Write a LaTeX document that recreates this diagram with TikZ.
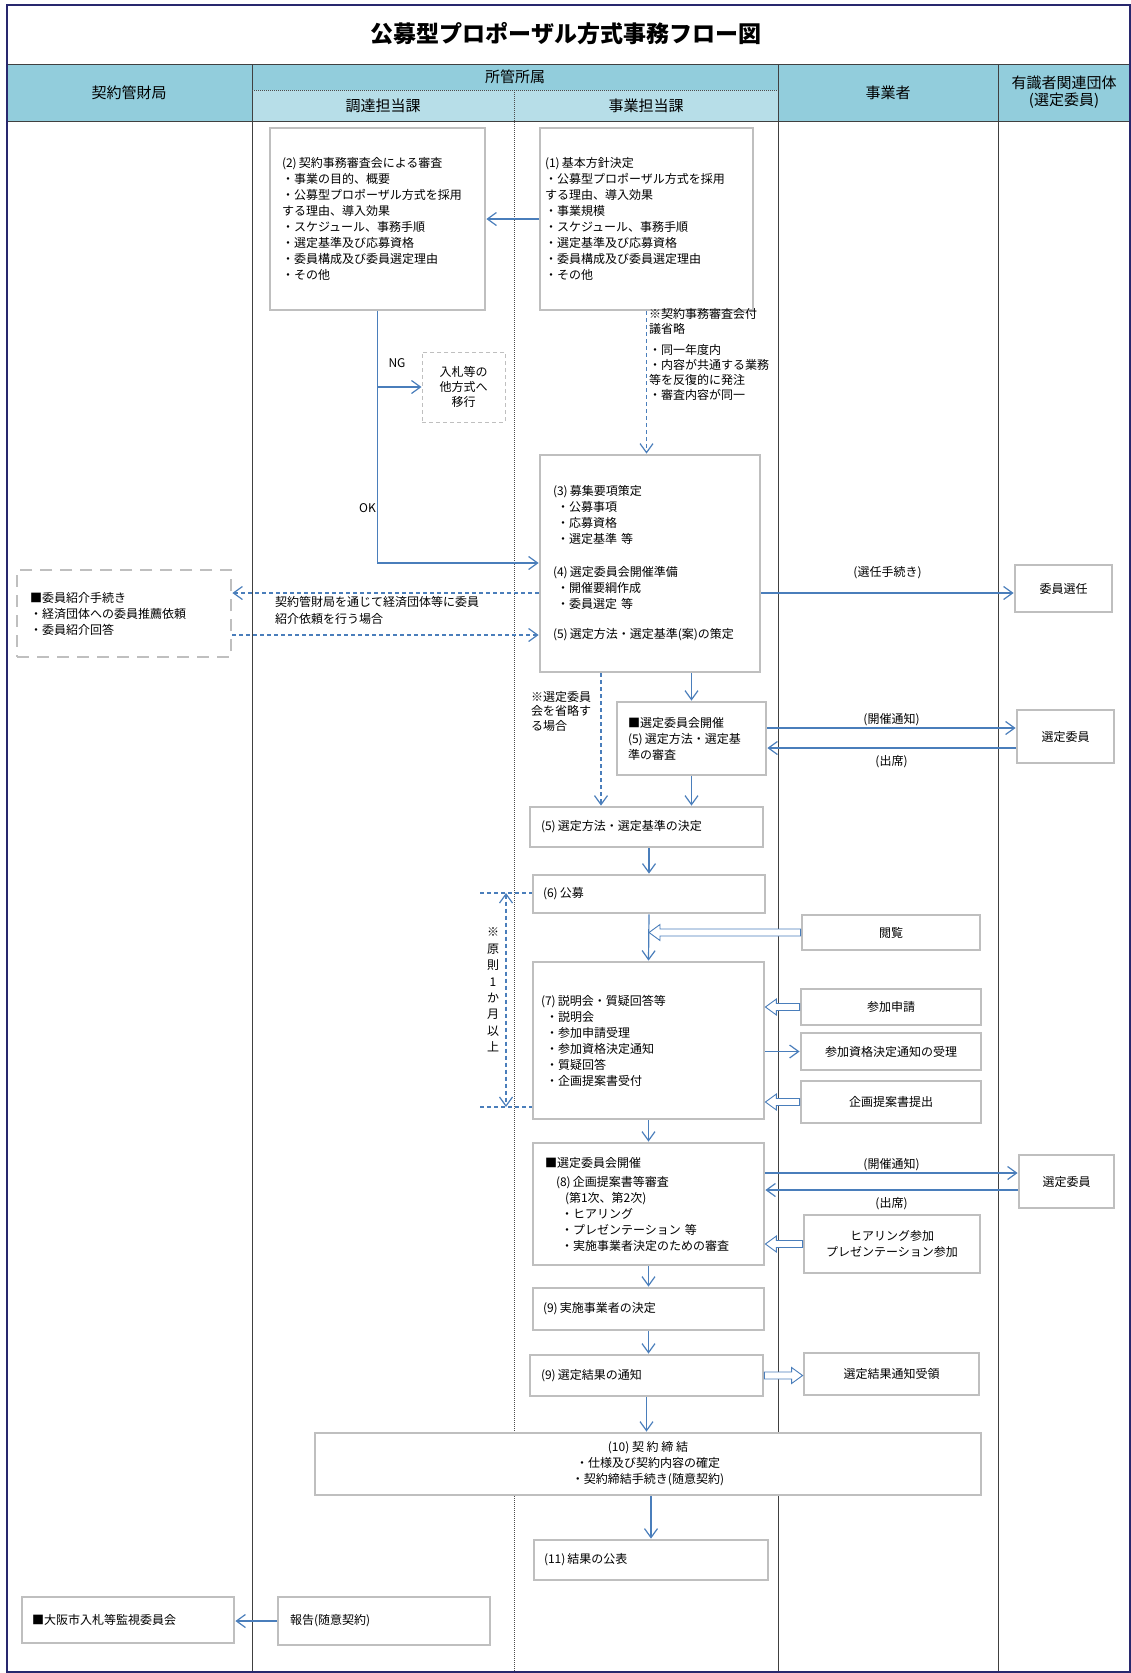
\documentclass[tikz,border=0pt]{standalone}
\usepackage{fontspec}
\setmainfont{Noto Sans CJK JP}
\usetikzlibrary{arrows.meta, calc}
\definecolor{navy}{RGB}{40,40,110}
\definecolor{headblue}{RGB}{146,205,220}
\definecolor{subblue}{RGB}{183,222,232}
\definecolor{boxgray}{RGB}{191,191,191}
\definecolor{flowblue}{RGB}{74,126,187}
\newcommand{\bodyfont}{\fontsize{12}{16}\selectfont}
\newcommand{\headfont}{\fontsize{15}{17}\selectfont}
\tikzset{
  outer/.style={draw=navy, line width=2pt},
  rule/.style={draw=black!75, line width=1pt},
  split/.style={draw=black!70, line width=0.8pt, dash pattern=on 1pt off 1pt},
  heading/.style={font=\fontsize{23}{26}\selectfont\bfseries},
  head/.style={font=\headfont, align=center},
  proc/.style={rectangle, draw=boxgray, line width=2.8pt, fill=white, font=\bodyfont,
               align=left, inner ysep=0pt},
  side/.style={rectangle, draw=boxgray, line width=2.8pt, fill=white, font=\bodyfont,
               align=center, inner sep=0pt},
  altbox/.style={rectangle, draw=boxgray, line width=1pt, dash pattern=on 4pt off 3pt,
                 fill=white, font=\fontsize{12}{15}\selectfont, align=center, inner sep=0pt},
  flow/.style={draw=flowblue, line width=1.2pt, -{Straight Barb[length=9pt,width=13pt]}},
  flowd/.style={flow, dash pattern=on 4pt off 3pt},
  flowdd/.style={flowd, {Straight Barb[length=9pt,width=13pt]}-{Straight Barb[length=9pt,width=13pt]}},
  guide/.style={draw=flowblue, line width=1.2pt, dash pattern=on 4pt off 3pt},
  hollow/.style={draw=flowblue, line width=0.9pt, fill=white, line join=miter},
  lbl/.style={font=\bodyfont, inner sep=1pt},
  note/.style={font=\fontsize{12}{15}\selectfont, align=left, inner sep=0pt},
}
% label above / below a horizontal arrow at height #3
\newcommand{\notify}[4]{\draw[flow] (#1 |- 0,#3) -- node[above=1pt,lbl]{#4} (#2 |- 0,#3);}
\newcommand{\reply}[4]{\draw[flow] (#1 |- 0,#3) -- node[below=6pt,lbl]{#4} (#2 |- 0,#3);}
% hollow (double) horizontal arrow
\newcommand{\hollowarr}[2]{\draw[hollow] let \p1=(#1), \p2=(#2), \n1={11*sign(\x1-\x2)} in
  (\x1,{\y1+3.5}) -- ({\x2+\n1},{\y1+3.5}) -- ({\x2+\n1},{\y1+8}) -- (\x2,\y1)
  -- ({\x2+\n1},{\y1-8}) -- ({\x2+\n1},{\y1-3.5}) -- (\x1,{\y1-3.5}) -- cycle;}

\begin{document}
\begin{tikzpicture}[x=1pt, y=-1pt]
\useasboundingbox (0,0) rectangle (1131,1673);

% 見出し
\fill[headblue] (7,64) rectangle (1130,121);
\fill[subblue] (252,90) rectangle (778,121);
\draw[rule] (7,64) -- (1130,64);
\draw[rule] (7,121) -- (1130,121);
\foreach \x in {252,778,998} \draw[rule] (\x,64) -- (\x,1672);
\draw[split] (252,90) -- (778,90);
\draw[split] (514,90) -- (514,1672);

\node[heading] (ttl) at (566,34) {公募型プロポーザル方式事務フロー図};
\node[head] (hkeiyaku) at (129,92.5) {契約管財局};
\node[head] (hshokan) at (515,77) {所管所属};
\node[head] (hchotatsu) at (383,105.5) {調達担当課};
\node[head] (hjigyo) at (646,105.5) {事業担当課};
\node[head] (hjigyosha) at (888,92.5) {事業者};
\node[head] (hyushiki) at (1064,92) {有識者関連団体\\(選定委員)};

% (1)(2) 基本方針・審査
\node[proc, text width=203pt, inner xsep=5pt, minimum height=182pt] (kihon) at (646.5,219) {(1)\,基本方針決定\\・公募型プロポーザル方式を採用\\する理由、導入効果\\・事業規模\\・スケジュール、事務手順\\・選定基準及び応募資格\\・委員構成及び委員選定理由\\・その他};
\node[proc, text width=191pt, inner xsep=12pt, minimum height=182pt] (shinsa) at (377.5,219) {(2)\,契約事務審査会による審査\\・事業の目的、概要\\・公募型プロポーザル方式を採用\\する理由、導入効果\\・スケジュール、事務手順\\・選定基準及び応募資格\\・委員構成及び委員選定理由\\・その他};
\draw[flow] (kihon) -- (shinsa);

\node[altbox, minimum width=83pt, minimum height=70pt] (tahoshiki) at (463.5,387) {入札等の\\他方式へ\\移行};
\node[note, anchor=north west] (fugi) at (649,308) {※契約事務審査会付\\議省略\\[6pt]・同一年度内\\・内容が共通する業務\\等を反復的に発注\\・審査内容が同一};

% (3)(4)(5) 募集要項
\node[proc, text width=194pt, inner xsep=13pt, minimum height=217pt] (boshu) at (650,563.5) {(3)\,募集要項策定\\\hspace*{4pt}・公募事項\\\hspace*{4pt}・応募資格\\\hspace*{4pt}・選定基準\ 等\\[17pt](4)\,選定委員会開催準備\\\hspace*{4pt}・開催要綱作成\\\hspace*{4pt}・委員選定\ 等\\[14pt](5)\,選定方法・選定基準(案)の策定};
\draw[flowd] (kihon.south) -- (kihon.south |- boshu.north);
\draw[flow] (shinsa.south) |- (boshu.west |- 0,563);
\draw[flow] (shinsa.south |- tahoshiki.west) -- (tahoshiki.west);
\node[lbl] (ng) at (397,363) {NG};
\node[lbl, anchor=east] (ok) at (377,508) {OK};

\node[proc, dash pattern=on 12pt off 8pt, text width=188pt, inner xsep=13pt, minimum height=87pt] (shokai) at (124,613.5) {■委員紹介手続き\\・経済団体への委員推薦依頼\\・委員紹介回答};
\draw[flowd] (boshu.west |- 0,593) -- (shokai.east |- 0,593);
\draw[flowd] (shokai.east |- 0,635) -- (boshu.west |- 0,635);
\node[note, anchor=north west, font=\fontsize{12}{17}\selectfont] (irai) at (275,596) {契約管財局を通じて経済団体等に委員\\紹介依頼を行う場合};

\node[side, minimum width=97pt, minimum height=47pt] (senin) at (1063.5,588.5) {委員選任};
\draw[flow] (boshu.east |- 0,593) -- node[above=13pt,lbl]{(選任手続き)} (senin.west |- 0,593);

% 選定委員会 (5)
\node[proc, text width=127pt, inner xsep=11pt, minimum height=73pt] (iinkai1) at (691.5,738.5) {■選定委員会開催\\(5)\,選定方法・選定基\\準の審査};
\node[side, minimum width=97pt, minimum height=53pt] (iin1) at (1065.5,736.5) {選定委員};
\node[note, anchor=north west, font=\fontsize{12}{14.5}\selectfont] (shoryaku) at (531,691) {※選定委員\\会を省略す\\る場合};
\node[proc, text width=211pt, inner xsep=11pt, minimum height=40pt] (kettei) at (646.5,827) {(5)\,選定方法・選定基準の決定};
\draw[flow] (iinkai1.north |- boshu.south) -- (iinkai1.north);
\draw[flowd] (boshu.south -| 601,0) -- (kettei.north -| 601,0);
\draw[flow] (iinkai1.south) -- (iinkai1.south |- kettei.north);
\notify{iinkai1.east}{iin1.west}{728}{(開催通知)}
\reply{iin1.west}{iinkai1.east}{748}{(出席)}

% (6)(7) 公募・説明会
\node[proc, text width=212pt, inner xsep=10pt, minimum height=38pt] (kobo) at (649,894) {(6)\,公募};
\node[side, minimum width=178pt, minimum height=35pt] (etsuran) at (891,932.5) {閲覧};
\node[proc, text width=215pt, inner xsep=8pt, minimum height=157pt] (setsumei) at (648.5,1040.5) {(7)\,説明会・質疑回答等\\\hspace*{5pt}・説明会\\\hspace*{5pt}・参加申請受理\\\hspace*{5pt}・参加資格決定通知\\\hspace*{5pt}・質疑回答\\\hspace*{5pt}・企画提案書受付};
\node[side, minimum width=180pt, minimum height=36pt] (shinsei) at (891,1007) {参加申請};
\node[side, minimum width=180pt, minimum height=37pt] (shikaku) at (891,1051.5) {参加資格決定通知の受理};
\node[side, minimum width=180pt, minimum height=42pt] (teishutsu) at (891,1102) {企画提案書提出};
\draw[flow] (kobo.north |- kettei.south) -- (kobo.north);
\draw[flow] (kobo.south) -- (setsumei.north);
\hollowarr{etsuran.west}{kobo.south |- etsuran.west}
\hollowarr{shinsei.west}{setsumei.east |- shinsei.west}
\draw[flow] (setsumei.east |- shikaku.west) -- (shikaku.west);
\hollowarr{teishutsu.west}{setsumei.east |- teishutsu.west}

% 公募期間
\coordinate (k1) at (480,893);
\coordinate (k2) at (480,1107);
\coordinate (m1) at (506,893);
\coordinate (m2) at (506,1107);
\draw[guide] (k1) -- (kobo.west |- k1);
\draw[guide] (k2) -- (setsumei.west |- k2);
\draw[flowdd] (m1) -- (m2);
\node[font=\fontsize{12}{16.4}\selectfont, align=center, fill=white, inner sep=0pt] (gensoku) at (493,990) {※\\原\\則\\1\\か\\月\\以\\上};

% (8)(9) 審査・決定
\node[proc, text width=207pt, inner xsep=12pt, minimum height=122pt] (iinkai2) at (648.5,1204) {■選定委員会開催\\[3pt]\hspace*{11pt}(8)\,企画提案書等審査\\\hspace*{20pt}(第1次、第2次)\\\hspace*{16pt}・ヒアリング\\\hspace*{16pt}・プレゼンテーション\ 等\\\hspace*{16pt}・実施事業者決定のための審査};
\node[side, minimum width=95pt, minimum height=53pt] (iin2) at (1066.5,1181.5) {選定委員};
\node[side, minimum width=176pt, minimum height=58pt] (hearing) at (892,1244) {ヒアリング参加\\プレゼンテーション参加};
\draw[flow] (setsumei.south) -- (iinkai2.north);
\notify{iinkai2.east}{iin2.west}{1173}{(開催通知)}
\reply{iin2.west}{iinkai2.east}{1190}{(出席)}
\hollowarr{hearing.west}{iinkai2.east |- hearing.west}

\node[proc, text width=211pt, inner xsep=10pt, minimum height=42pt] (jisshi) at (648.5,1309) {(9)\,実施事業者の決定};
\node[proc, text width=211pt, inner xsep=11pt, minimum height=41pt] (kekka) at (646.5,1375.5) {(9)\,選定結果の通知};
\node[side, minimum width=175pt, minimum height=42pt] (juryo) at (891.5,1374) {選定結果通知受領};
\draw[flow] (iinkai2.south) -- (jisshi.north);
\draw[flow] (jisshi.south) -- (jisshi.south |- kekka.north);
\hollowarr{kekka.east}{juryo.west |- kekka.east}

% (10)(11) 契約・公表
\node[side, minimum width=666pt, minimum height=62pt] (teiketsu) at (648,1464) {(10)\ 契\ 約\ 締\ 結\\・仕様及び契約内容の確定\\・契約締結手続き(随意契約)};
\node[proc, text width=214pt, inner xsep=10pt, minimum height=40pt] (kohyo) at (651,1560) {(11)\,結果の公表};
\draw[flow] (kekka.south) -- (kekka.south |- teiketsu.north);
\draw[flow] (teiketsu.south -| kohyo.north) -- (kohyo.north);

% 報告
\node[proc, text width=188pt, inner xsep=12pt, minimum height=48pt] (hokoku) at (384,1621) {報告(随意契約)};
\node[proc, text width=192pt, inner xsep=10pt, minimum height=46pt] (kanshi) at (128,1620) {■大阪市入札等監視委員会};
\draw[flow] (hokoku.west) -- (kanshi.east |- hokoku.west);

\draw[outer] (7,5) rectangle (1130,1672);
\end{tikzpicture}
\end{document}
